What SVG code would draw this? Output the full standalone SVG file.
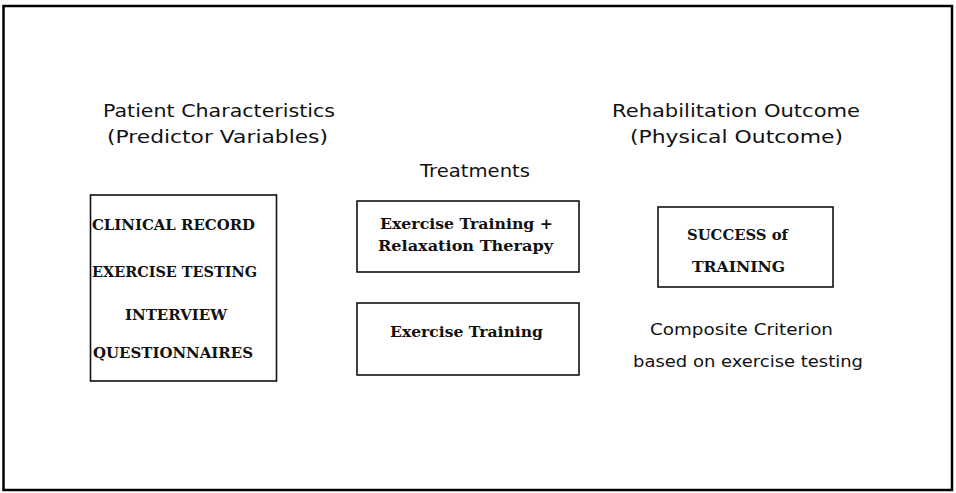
<svg xmlns="http://www.w3.org/2000/svg" width="956" height="493" viewBox="0 0 956 493">
  <style>
    .frame { fill: none; stroke: #000; stroke-width: 2.5; }
    .box { fill: #fff; stroke: #111; stroke-width: 1.6; }
    .head { font-family: "DejaVu Sans", "Liberation Sans", sans-serif; font-size: 17px; fill: #111; }
    .note { font-family: "DejaVu Sans", "Liberation Sans", sans-serif; font-size: 16px; fill: #111; }
    .item { font-family: "DejaVu Serif", "Liberation Serif", serif; font-weight: bold; font-size: 14px; fill: #111; }
  </style>
  <rect width="956" height="493" fill="#fff"/>
  <rect class="frame" x="3.5" y="6" width="948.5" height="484"/>

  <!-- column headings -->
  <g id="heading-patient">
    <text class="head" x="103" y="117" textLength="232" lengthAdjust="spacingAndGlyphs">Patient Characteristics</text>
    <text class="head" x="107" y="143" textLength="221" lengthAdjust="spacingAndGlyphs">(Predictor Variables)</text>
  </g>
  <g id="heading-treatments">
    <text class="head" x="420" y="177" textLength="110" lengthAdjust="spacingAndGlyphs">Treatments</text>
  </g>
  <g id="heading-outcome">
    <text class="head" x="612" y="117" textLength="248" lengthAdjust="spacingAndGlyphs">Rehabilitation Outcome</text>
    <text class="head" x="630" y="143" textLength="213" lengthAdjust="spacingAndGlyphs">(Physical Outcome)</text>
  </g>

  <!-- predictor variables -->
  <g id="node-predictors">
    <rect class="box" x="90.5" y="195" width="186" height="186"/>
    <text class="item" x="92" y="230" textLength="163" lengthAdjust="spacingAndGlyphs">CLINICAL RECORD</text>
    <text class="item" x="92" y="277" textLength="165" lengthAdjust="spacingAndGlyphs">EXERCISE TESTING</text>
    <text class="item" x="125" y="320" textLength="102" lengthAdjust="spacingAndGlyphs">INTERVIEW</text>
    <text class="item" x="93" y="358" textLength="160" lengthAdjust="spacingAndGlyphs">QUESTIONNAIRES</text>
  </g>

  <!-- treatments -->
  <g id="node-exercise-relaxation">
    <rect class="box" x="357" y="201" width="222" height="71"/>
    <text class="item" x="380" y="229" textLength="173" lengthAdjust="spacingAndGlyphs">Exercise Training +</text>
    <text class="item" x="378" y="251" textLength="175" lengthAdjust="spacingAndGlyphs">Relaxation Therapy</text>
  </g>
  <g id="node-exercise">
    <rect class="box" x="357" y="303" width="222" height="72"/>
    <text class="item" x="390" y="337" textLength="153" lengthAdjust="spacingAndGlyphs">Exercise Training</text>
  </g>

  <!-- outcome -->
  <g id="node-success">
    <rect class="box" x="658" y="207" width="175" height="80"/>
    <text class="item" x="687" y="240" textLength="101" lengthAdjust="spacingAndGlyphs">SUCCESS of</text>
    <text class="item" x="692" y="272" textLength="93" lengthAdjust="spacingAndGlyphs">TRAINING</text>
  </g>
  <g id="note-criterion">
    <text class="note" x="650" y="335" textLength="183" lengthAdjust="spacingAndGlyphs">Composite Criterion</text>
    <text class="note" x="633" y="367" textLength="230" lengthAdjust="spacingAndGlyphs">based on exercise testing</text>
  </g>

  <g id="connectors"></g>
</svg>
